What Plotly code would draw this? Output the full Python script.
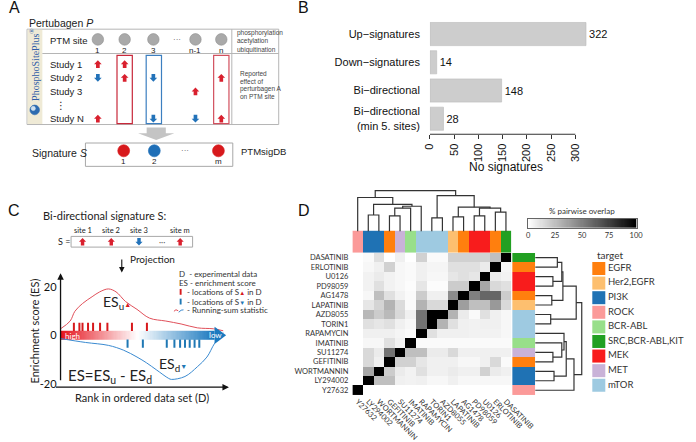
import numpy as np
import plotly.graph_objects as go

W, H = 696, 442
def px(x): return x / W
def py(y): return 1 - y / H

SANS = "Liberation Sans"
HUM = "Lato"
SERIF = "Liberation Serif"
RED = "#D9202E"
BLUE = "#2272B9"

# ------------------------------------------------------------------ DATA
# Panel B
sig_types = ["Up−signatures", "Down−signatures", "Bi−directional", "Bi−directional<br>(min 5. sites)"]
sig_counts = [322, 14, 148, 28]
count_ticks = [0, 50, 100, 150, 200, 250, 300]

# Panel D
drugs = ["Y27632", "LY294002", "WORTMANNIN", "GEFITINIB", "SU11274", "IMATINIB", "RAPAMYCIN",
         "TORIN1", "AZD8055", "LAPATINIB", "AG1478", "PD98059", "U0126", "ERLOTINIB", "DASATINIB"]
drug_targets = ["ROCK", "PI3K", "PI3K", "EGFR", "MET", "BCR-ABL", "mTOR", "mTOR", "mTOR",
                "Her2,EGFR", "EGFR", "MEK", "MEK", "EGFR", "SRC,BCR-ABL,KIT"]
targets = ["EGFR", "Her2,EGFR", "PI3K", "ROCK", "BCR-ABL", "SRC,BCR-ABL,KIT", "MEK", "MET", "mTOR"]
target_colors = ["#FF7F0E", "#FDBF6F", "#1F72B4", "#FB9A99", "#98DF8A", "#22A022", "#F81C1C", "#C9B2D8", "#9ECAE1"]
# rows listed top -> bottom (DASATINIB ... Y27632), columns in `drugs` order
overlap_rows = [
    [0, 2, 12, 0, 6, 0, 18, 2, 2, 18, 18, 18, 18, 25, 100],
    [0, 3, 6, 18, 3, 2, 6, 4, 4, 12, 12, 12, 8, 100, 4],
    [0, 5, 8, 5, 3, 2, 6, 3, 3, 10, 12, 10, 100, 8, 5],
    [0, 5, 12, 5, 3, 1, 10, 1, 1, 20, 20, 100, 35, 15, 12],
    [0, 3, 25, 12, 5, 2, 20, 6, 6, 45, 100, 50, 60, 60, 20],
    [0, 10, 17, 30, 14, 2, 30, 15, 15, 100, 38, 25, 25, 40, 15],
    [0, 28, 20, 27, 15, 6, 55, 100, 100, 30, 8, 2, 12, 6, 3],
    [0, 12, 10, 12, 6, 3, 55, 100, 30, 12, 6, 5, 6, 6, 3],
    [0, 6, 6, 6, 4, 2, 100, 12, 6, 6, 6, 5, 5, 5, 3],
    [0, 3, 3, 12, 5, 100, 2, 2, 2, 2, 2, 2, 2, 2, 2],
    [0, 15, 8, 55, 100, 25, 25, 8, 8, 15, 6, 6, 6, 6, 6],
    [0, 15, 6, 100, 18, 18, 10, 6, 6, 6, 3, 3, 6, 15, 2],
    [0, 35, 100, 20, 8, 5, 12, 6, 6, 8, 6, 6, 18, 8, 6],
    [0, 100, 25, 25, 6, 5, 6, 3, 3, 6, 3, 3, 3, 3, 3],
    [100, 0, 0, 0, 0, 0, 0, 0, 0, 0, 0, 0, 0, 0, 0],
]
# hierarchical clustering merges (child, child, height) ; leaves = index in `drugs`
dendro_merges = [
    (1, 2, 17), (3, 4, 16), (16, 5, 24), (17, 6, 26), (15, 18, 28), (0, 19, 35),
    (7, 8, 14), (9, 10, 15), (11, 12, 16), (13, 14, 20), (23, 24, 24), (22, 25, 25),
    (21, 26, 37), (20, 27, 42),
]
overlap_ticks = [0, 25, 50, 75, 100]

# Panel A
ptm_sites = ["1", "2", "3", "n-1", "n"]
studies = ["Study 1", "Study 2", "Study 3", "Study N"]
study_effects = [
    [1, 1, 0, 0, 0],
    [-1, 1, -1, 0, 1],
    [0, 0, 0, 1, 0],
    [1, 0, -1, -1, 1],
]
signature_sites = ["1", "2", "m"]
signature_dirs = [1, -1, 1]

# Panel C
c_sites = ["site 1", "site 2", "site 3", "site m"]
c_dirs = [1, 1, -1, 1]
rank_up = [0, 5.9, 8.8, 13.5, 19.4, 24.1, 29.4, 34.1, 40, 47, 54.7, 64.7, 74.1, 84.1, 94.1, 100]
es_up = [2.8, 6, 10, 13.2, 16, 18, 19.2, 18, 14, 10.8, 7.2, 6, 4.8, 3.2, 2.8, 2]
rank_down = [0, 15.3, 29.4, 38.8, 47, 52.9, 58.8, 66.5, 68.2, 76.5, 84.1, 90, 94.7, 100]
es_down = [-1.2, -2.8, -4, -6, -8.8, -11.2, -14, -17.6, -18, -16.8, -12.8, -8.8, -3.2, 1.2]
hits_up = [8.2, 11.6, 13.5, 16.9, 20, 24.3, 28.8, 43.9, 53.1]
hits_down = [41.2, 50.6, 65.3, 70, 73.5, 76.5, 79.4, 82.4, 85.3]

# ------------------------------------------------------------------ helpers
shapes, annos = [], []

def T(x, y, text, size=10, xa="left", ya="middle", color="#222", family=HUM, angle=0):
    annos.append(dict(x=px(x), y=py(y), xref="paper", yref="paper", text=text, showarrow=False,
                      xanchor=xa, yanchor=ya, textangle=angle,
                      font=dict(family=family, size=size, color=color)))

def rect(x0, y0, x1, y1, line="#A8A8A8", fill=None, lw=1):
    d = dict(type="rect", xref="paper", yref="paper", x0=px(x0), x1=px(x1), y0=py(y1), y1=py(y0),
             line=dict(color=line, width=lw))
    if fill:
        d["fillcolor"] = fill
    if lw == 0:
        d["line"] = dict(width=0)
    shapes.append(d)

def line(x0, y0, x1, y1, color="#A8A8A8", lw=1):
    shapes.append(dict(type="line", xref="paper", yref="paper", x0=px(x0), x1=px(x1), y0=py(y0), y1=py(y1),
                       line=dict(color=color, width=lw)))

def circle(cx, cy, r, fill, line_c=None):
    shapes.append(dict(type="circle", xref="paper", yref="paper", x0=px(cx - r), x1=px(cx + r),
                       y0=py(cy + r), y1=py(cy - r), fillcolor=fill,
                       line=dict(color=line_c or fill, width=0.6)))

def poly(pts, fill):
    path = "M " + " L ".join(f"{px(x):.5f},{py(y):.5f}" for x, y in pts) + " Z"
    shapes.append(dict(type="path", xref="paper", yref="paper", path=path, fillcolor=fill, line=dict(width=0)))

def arrow(cx, cy, d, s=8):
    h = s / 2
    sw = s * 0.24
    sg = -1 if d > 0 else 1
    pts = [(cx - h, cy), (cx, cy + sg * h), (cx + h, cy), (cx + sw, cy), (cx + sw, cy - sg * h),
           (cx - sw, cy - sg * h), (cx - sw, cy)]
    poly(pts, RED if d > 0 else BLUE)

def dendro_segments(merges, n_leaves):
    pos = {i: float(i) for i in range(n_leaves)}
    hgt = {i: 0.0 for i in range(n_leaves)}
    xs, ys = [], []
    for k, (a, b, h) in enumerate(merges):
        xa, xb = pos[a], pos[b]
        xs += [xa, xa, xb, xb, None]
        ys += [hgt[a], h, h, hgt[b], None]
        pos[n_leaves + k] = (xa + xb) / 2
        hgt[n_leaves + k] = h
    return xs, ys

fig = go.Figure()

# ------------------------------------------------------------------ panel B
fig.add_trace(go.Bar(
    y=list(range(len(sig_types))), x=sig_counts, orientation="h", width=0.82,
    marker=dict(color="#CDCDCD", line=dict(color="#BBBBBB", width=0.6)),
    text=[str(v) for v in sig_counts], textposition="outside",
    textfont=dict(family=SANS, size=11, color="#111"),
    cliponaxis=False, constraintext="none", xaxis="x", yaxis="y", hoverinfo="skip"))
B_PPU = 152 / 300.0

# ------------------------------------------------------------------ panel D
n = len(drugs)
rows_names = drugs[::-1]
grey_scale = [[0, "#FFFFFF"], [1, "#000000"]]
fig.add_trace(go.Heatmap(z=overlap_rows, x=list(range(n)), y=list(range(n)), colorscale=grey_scale,
                         zmin=0, zmax=100, showscale=False, xaxis="x2", yaxis="y2", hoverinfo="skip"))

t_idx = {t: i for i, t in enumerate(targets)}
nT = len(targets)
disc = []
for i, c in enumerate(target_colors):
    disc += [[i / nT, c], [(i + 1) / nT, c]]
col_codes = [t_idx[t] for t in drug_targets]
row_codes = col_codes[::-1]
fig.add_trace(go.Heatmap(z=[col_codes], x=list(range(n)), y=[0], colorscale=disc, zmin=-0.5, zmax=nT - 0.5,
                         showscale=False, xaxis="x3", yaxis="y3", hoverinfo="skip"))
fig.add_trace(go.Heatmap(z=[[c] for c in row_codes], x=[0], y=list(range(n)), colorscale=disc, zmin=-0.5,
                         zmax=nT - 0.5, showscale=False, xaxis="x4", yaxis="y4", hoverinfo="skip"))

dx, dy = dendro_segments(dendro_merges, n)
fig.add_trace(go.Scatter(x=dx, y=dy, mode="lines", line=dict(color="#333", width=1.2),
                         xaxis="x5", yaxis="y5", hoverinfo="skip"))
fig.add_trace(go.Scatter(x=dy, y=[None if v is None else (n - 1 - v) for v in dx], mode="lines",
                         line=dict(color="#333", width=1.2), xaxis="x6", yaxis="y6", hoverinfo="skip"))

fig.add_trace(go.Heatmap(z=[list(range(101))], x=list(range(101)), y=[0], colorscale=grey_scale,
                         zmin=0, zmax=100, showscale=False, xaxis="x7", yaxis="y7", hoverinfo="skip"))

fig.add_trace(go.Scatter(x=[0] * nT, y=list(range(nT)), mode="markers+text",
                         marker=dict(symbol="square", size=13, color=target_colors),
                         text=targets, textposition="middle right",
                         textfont=dict(family=HUM, size=9.5, color="#333"),
                         cliponaxis=False, xaxis="x8", yaxis="y8", hoverinfo="skip"))

# ------------------------------------------------------------------ panel C
C_X0, C_PPU = 57, 1.7
nb = 120
fig.add_trace(go.Heatmap(z=[list(np.linspace(0, 1, nb))], x=list(np.linspace(0, 94.7, nb + 1)), y=[-1.6, 2.0],
                         colorscale=[[0, "#E5131D"], [0.5, "#FFFFFF"], [1, "#1B79BF"]],
                         showscale=False, xaxis="x9", yaxis="y9", hoverinfo="skip"))
fig.add_trace(go.Scatter(x=rank_up, y=es_up, mode="lines", line=dict(color="#E0505A", width=1, shape="spline"),
                         xaxis="x9", yaxis="y9", hoverinfo="skip"))
fig.add_trace(go.Scatter(x=rank_down, y=es_down, mode="lines", line=dict(color="#3A8AD0", width=1, shape="spline"),
                         xaxis="x9", yaxis="y9", hoverinfo="skip"))
fig.add_trace(go.Scatter(x=hits_up, y=[3.6] * len(hits_up), mode="markers",
                         marker=dict(symbol="line-ns-open", size=6, color="#D7191C",
                                     line=dict(color="#D7191C", width=2)),
                         xaxis="x9", yaxis="y9", hoverinfo="skip"))
fig.add_trace(go.Scatter(x=hits_down, y=[-3.3] * len(hits_down), mode="markers",
                         marker=dict(symbol="line-ns-open", size=6, color="#1F78B4",
                                     line=dict(color="#1F78B4", width=2)),
                         xaxis="x9", yaxis="y9", hoverinfo="skip"))
shapes.append(dict(type="path", xref="x9", yref="y9", path="M 94.7,3.6 L 101.8,0.2 L 94.7,-3.4 Z",
                   fillcolor="#1B79BF", line=dict(width=0)))

# ------------------------------------------------------------------ panel A drawing
A_site_x = [96, 124, 154, 198, 225]
A_study_y = [66, 80, 94, 122]
T(22, 24, "Pertubagen <i>P</i>", 10.5, family=SANS)
rect(22, 30, 285, 128, line="#B5B5B5")
rect(22.5, 30.5, 38, 127.5, fill="#EFEAD6", lw=0)
T(30, 66, "PhosphoSitePlus<sup>®</sup>", 10, xa="center", color="#2F5DA8", family=SERIF, angle=-90)
circle(30, 113, 5, "#2D6BB0")
circle(28.5, 111.5, 2.2, "#CFE0F0")
line(38, 55, 285, 55, "#B5B5B5")
line(236, 30, 236, 128, "#B5B5B5")
T(44, 42, "PTM site", 9.5, family=SANS)
for sx, lab in zip(A_site_x, ptm_sites):
    circle(sx, 40.5, 6, "#A9A9A9", "#8E8E8E")
    T(sx, 52, lab, 8, xa="center", family=SANS)
T(179, 41, "···", 8, xa="center", family=SANS, color="#555")
for i, t in enumerate(["phosphorylation", "acetylation", "ubiquitination"]):
    T(239, 34 + i * 8.5, t, 6.5, family=SANS, color="#444")
for i, t in enumerate(["Reported", "effect of", "perturbagen A", "on PTM site"]):
    T(242, 76 + i * 7.8, t, 6.5, family=SANS, color="#444")
for sy, st, eff in zip(A_study_y, studies, study_effects):
    T(44, sy, st, 9.5, family=SANS)
    for sx, e in zip(A_site_x, eff):
        if e:
            arrow(sx, sy, e, 8)
T(57, 108, "⋮", 10, xa="center", family="DejaVu Sans")
rect(A_site_x[1] - 8, 57, A_site_x[1] + 8, 127, line="#C8283A", lw=1.2)
rect(A_site_x[2] - 7.5, 57, A_site_x[2] + 8.5, 127, line="#3C7FC0", lw=1.2)
rect(A_site_x[4] - 8, 57, A_site_x[4] + 8, 127, line="#D2505E", lw=1.2)
poly([(147, 131), (167, 131), (167, 137), (176, 137), (157, 144), (138, 137), (147, 137)], "#C4C4C4")
rect(83, 147, 237, 171, line="#A8A8A8")
T(25, 157, "Signature <i>S</i>", 10.5, family=SANS)
for sx, lab, d in zip([123, 155, 222], signature_sites, signature_dirs):
    circle(sx, 155, 6.2, "#D7191C" if d > 0 else "#1F6FB7")
    T(sx, 166, lab, 8, xa="center", family=SANS)
T(187, 155, "···", 8, xa="center", family=SANS, color="#555")
T(243, 156, "PTMsigDB", 9.5, family=SANS)

# ------------------------------------------------------------------ panel C drawing
T(37, 222, "Bi-directional signature S:", 11)
rect(68, 243, 195, 254, line="#A8A8A8")
T(52, 248.5, "S =", 9)
for sx, lab, d in zip([80, 110, 139, 182], c_sites, c_dirs):
    T(sx, 237, lab, 7.5, xa="center")
    arrow(sx, 248.5, d, 7.5)
T(163, 249, "···", 8, xa="center", color="#555")
annos.append(dict(x=px(121), y=py(280), xref="paper", yref="paper", ax=0, ay=-23, text=" ", showarrow=True,
                  arrowhead=2, arrowsize=1, arrowwidth=1.1, arrowcolor="#111"))
T(128, 266, "Projection", 10)
annos.append(dict(x=px(57), y=py(281), xref="paper", yref="paper", ax=0, ay=117, text=" ", showarrow=True,
                  arrowhead=2, arrowsize=1, arrowwidth=1.3, arrowcolor="#111"))
annos.append(dict(x=px(233), y=py(398), xref="paper", yref="paper", ax=-176, ay=0, text=" ", showarrow=True,
                  arrowhead=2, arrowsize=1, arrowwidth=1.3, arrowcolor="#111"))
T(30, 340, "Enrichment score (ES)", 11, xa="center", angle=-90)
T(142, 409, "Rank in ordered data set (D)", 11, xa="center")
T(60, 345, "high", 8, color="white")
T(228, 344.5, "low", 8, xa="right", color="white")
T(99, 311, "ES<sub>u</sub><span style='color:#D7191C;font-size:7px'>▲</span>", 14)
T(158, 375, "ES<sub>d</sub><span style='color:#1F78B4;font-size:7px'>▼</span>", 14)
T(63, 386, "ES=ES<sub>u</sub> - ES<sub>d</sub>", 15)
T(179, 282, "D  - experimental data", 8, color="#333")
T(179, 291, "ES - enrichment score", 8, color="#333")
rect(181.5, 297, 183.5, 303, fill="#D7191C", lw=0)
T(187, 300, "- locations of S<span style='color:#D7191C;font-size:6px'>▲</span> in D", 8, color="#333")
rect(181.5, 307, 183.5, 313, fill="#1F78B4", lw=0)
T(187, 310, "- locations of S<span style='color:#1F78B4;font-size:6px'>▼</span> in D", 8, color="#333")
shapes.append(dict(type="path", xref="paper", yref="paper",
                   path=f"M {px(175.5)},{py(320)} Q {px(177.5)},{py(317)} {px(180)},{py(319.5)}",
                   line=dict(color="#E0505A", width=1)))
shapes.append(dict(type="path", xref="paper", yref="paper",
                   path=f"M {px(180.5)},{py(321)} Q {px(183)},{py(318)} {px(185.5)},{py(318.5)}",
                   line=dict(color="#3A8AD0", width=1)))
T(187, 319, "- Running-sum statistic", 8, color="#333")

# ------------------------------------------------------------------ panel B/D text
T(522, 172, "No signatures", 12, xa="center", family=SANS, color="#111")
shapes.append(dict(type="line", xref="x", yref="paper", x0=0, x1=300, y0=py(138), y1=py(138),
                   line=dict(color="#333", width=1)))
T(602, 217, "% pairwise overlap", 8, xa="center", color="#333")
T(616, 262, "target", 10, color="#333")

for lab, x, y in [("A", 9, 8), ("B", 311, 8), ("C", 8, 216), ("D", 311, 216)]:
    T(x, y, lab, 16, xa="center", family=SANS, color="#111")

# ------------------------------------------------------------------ layout
hid = dict(visible=False, showgrid=False, zeroline=False)
tick_d = dict(family=HUM, size=7.5, color="#333")
layout = dict(
    width=W, height=H, margin=dict(l=0, r=0, t=0, b=0), showlegend=False,
    paper_bgcolor="white", plot_bgcolor="rgba(0,0,0,0)",
    xaxis=dict(domain=[px(443), px(443 + 370 * B_PPU)], range=[0, 370], anchor="y", tickvals=count_ticks,
               ticks="outside", ticklen=4, tickcolor="#333", tickangle=-90, showgrid=False, zeroline=False,
               showline=False, tickfont=dict(family=SANS, size=11, color="#111")),
    yaxis=dict(domain=[py(138), py(20.5)], range=[3.55, -0.5], anchor="x", tickvals=list(range(len(sig_types))),
               ticktext=sig_types, ticks="", showgrid=False, zeroline=False, showline=False,
               ticklabelstandoff=9, tickfont=dict(family=SANS, size=11, color="#111")),
    xaxis2=dict(domain=[px(362), px(528)], range=[-0.5, n - 0.5], anchor="y2", tickvals=list(range(n)),
                ticktext=drugs, tickangle=45, ticks="", showgrid=False, zeroline=False, tickfont=tick_d),
    yaxis2=dict(domain=[py(406), py(260)], range=[n - 0.5, -0.5], anchor="x2", tickvals=list(range(n)),
                ticktext=rows_names, ticks="", showgrid=False, zeroline=False, tickfont=tick_d,
                ticklabelstandoff=3),
    xaxis3=dict(domain=[px(362), px(528)], range=[-0.5, n - 0.5], anchor="y3", **hid),
    yaxis3=dict(domain=[py(260), py(237)], range=[-0.5, 0.5], anchor="x3", **hid),
    xaxis4=dict(domain=[px(529), px(553)], range=[-0.5, 0.5], anchor="y4", **hid),
    yaxis4=dict(domain=[py(406), py(260)], range=[n - 0.5, -0.5], anchor="x4", **hid),
    xaxis5=dict(domain=[px(362), px(528)], range=[-0.5, n - 0.5], anchor="y5", **hid),
    yaxis5=dict(domain=[py(238), py(194)], range=[0, 44], anchor="x5", **hid),
    xaxis6=dict(domain=[px(553), px(604)], range=[0, 44], anchor="y6", **hid),
    yaxis6=dict(domain=[py(406), py(260)], range=[n - 0.5, -0.5], anchor="x6", **hid),
    xaxis7=dict(domain=[px(545), px(659)], range=[-0.5, 100.5], anchor="y7", tickvals=overlap_ticks,
                ticks="", showgrid=False, zeroline=False, showline=True, mirror=True, linecolor="#666",
                linewidth=0.8, tickfont=tick_d),
    yaxis7=dict(domain=[py(234), py(225)], range=[-0.5, 0.5], anchor="x7", showticklabels=False, ticks="",
                showgrid=False, zeroline=False, showline=True, mirror=True, linecolor="#666", linewidth=0.8),
    xaxis8=dict(domain=[px(609.5), px(696)], range=[-1, 7.65], anchor="y8", **hid),
    yaxis8=dict(domain=[py(403.5), py(268.5)], range=[nT - 0.5, -0.5], anchor="x8", **hid),
    xaxis9=dict(domain=[px(C_X0), px(C_X0 + 104 * C_PPU)], range=[0, 104], anchor="y9", showticklabels=False,
                ticks="", showgrid=False, zeroline=False, showline=False),
    yaxis9=dict(domain=[py(398), py(282)], range=[-21.2, 25.2], anchor="x9", tickvals=[-20, 0, 20],
                ticktext=["-20", "0", "20"], ticks="", showgrid=False, zeroline=False, showline=False,
                ticklabelstandoff=3, tickfont=dict(family=HUM, size=11, color="#111")),
    shapes=shapes, annotations=annos,
)
fig.update_layout(**layout)
fig.write_html("out.html", config={"displayModeBar": False},
               post_script="document.body.style.margin='0';document.body.style.padding='0';"
                           "document.body.style.overflow='hidden';")
